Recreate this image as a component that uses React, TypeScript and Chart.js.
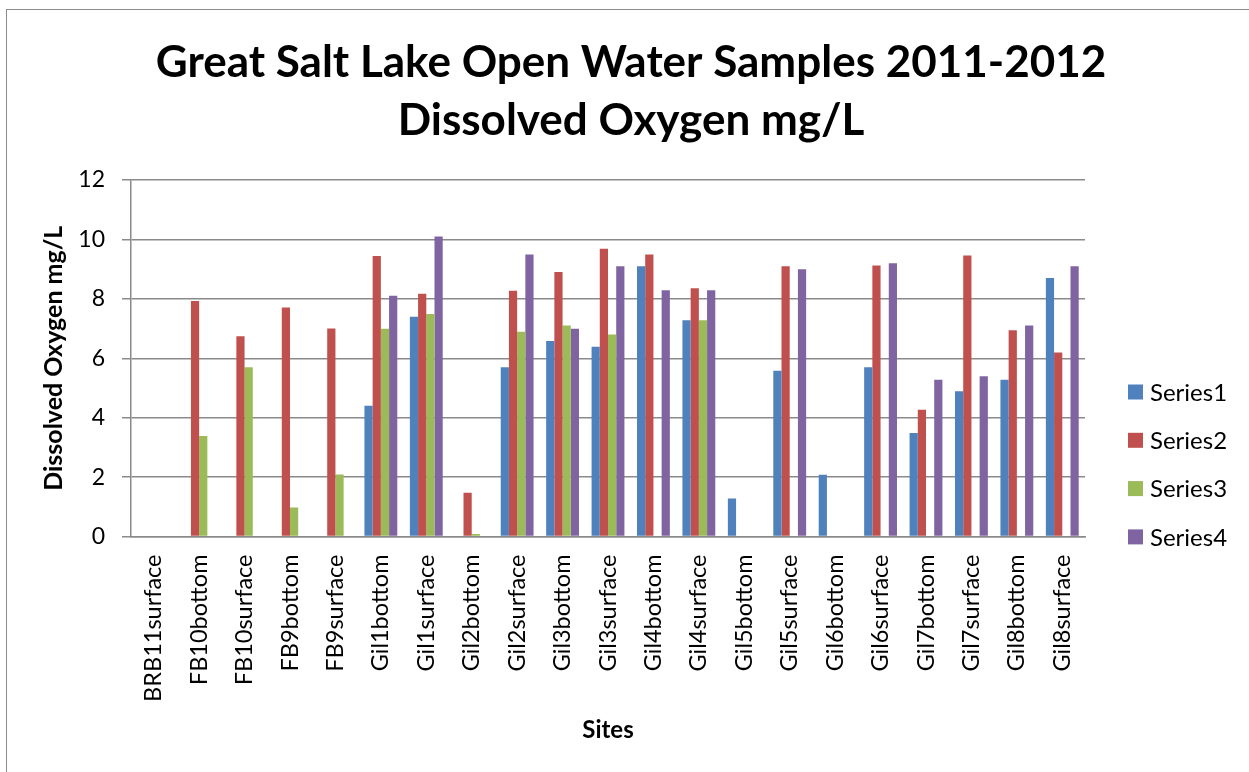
import React, { useEffect, useRef } from 'react';
import { Chart, registerables } from 'chart.js';

Chart.register(...registerables);

const categories = [
  'BRB11surface', 'FB10bottom', 'FB10surface', 'FB9bottom', 'FB9surface',
  'Gil1bottom', 'Gil1surface', 'Gil2bottom', 'Gil2surface', 'Gil3bottom',
  'Gil3surface', 'Gil4bottom', 'Gil4surface', 'Gil5bottom', 'Gil5surface',
  'Gil6bottom', 'Gil6surface', 'Gil7bottom', 'Gil7surface', 'Gil8bottom',
  'Gil8surface',
];

const series1 = [null, null, null, null, null, 4.4, 7.4, null, 5.7, 6.58, 6.39, 9.1, 7.28, 1.28, 5.58, 2.08, 5.7, 3.48, 4.89, 5.28, 8.7];
const series2 = [null, 7.93, 6.74, 7.71, 7.0, 9.44, 8.17, 1.47, 8.27, 8.9, 9.69, 9.49, 8.36, null, 9.1, null, 9.12, 4.27, 9.46, 6.94, 6.19];
const series3 = [null, 3.38, 5.7, 0.98, 2.09, 6.99, 7.49, 0.08, 6.89, 7.1, 6.8, null, 7.28, null, null, null, null, null, null, null, null];
const series4 = [null, null, null, null, null, 8.1, 10.1, null, 9.49, 6.99, 9.1, 8.29, 8.29, null, 9.0, null, 9.2, 5.28, 5.39, 7.1, 9.1];

const seriesNames = ['Series1', 'Series2', 'Series3', 'Series4'];
const seriesColors = ['#4F81BD', '#C0504D', '#9BBB59', '#8064A2'];

const yMin = 0;
const yMax = 12;
const yStep = 2;

const titleLines = ['Great Salt Lake Open Water Samples 2011-2012', 'Dissolved Oxygen mg/L'];
const yAxisTitle = 'Dissolved Oxygen mg/L';
const xAxisTitle = 'Sites';

const FONT = 'Lato, "Open Sans", sans-serif';
const GRID = '#8a8a8a';

const framePlugin = {
  id: 'frame',
  beforeDraw(chart: any) {
    const ctx = chart.ctx;
    ctx.save();
    ctx.fillStyle = '#ffffff';
    ctx.fillRect(0, 0, chart.width, chart.height);
    ctx.strokeStyle = '#8c8c8c';
    ctx.lineWidth = 1;
    ctx.strokeRect(6.5, 9.5, chart.width + 20, chart.height + 20);
    ctx.restore();
  },
};

const sideLegendPlugin = {
  id: 'sideLegend',
  afterDraw(chart: any) {
    const ctx = chart.ctx;
    const area = chart.chartArea;
    ctx.save();
    ctx.font = `24px ${FONT}`;
    ctx.textBaseline = 'middle';
    ctx.textAlign = 'left';
    const x0 = area.right + 43;
    const y0 = 392;
    const gap = 48.3;
    chart.data.datasets.forEach((ds: any, i: number) => {
      const y = y0 + i * gap;
      ctx.fillStyle = ds.backgroundColor;
      ctx.fillRect(x0, y - 7.5, 15, 15);
      ctx.fillStyle = '#000000';
      ctx.fillText(ds.label, x0 + 22, y + 1);
    });
    ctx.restore();
  },
};

export default function App() {
  const canvasRef = useRef<HTMLCanvasElement | null>(null);

  useEffect(() => {
    const canvas = canvasRef.current;
    if (!canvas) return;
    const seriesData = [series1, series2, series3, series4];
    const chart = new Chart(canvas, {
      type: 'bar',
      data: {
        labels: categories,
        datasets: seriesData.map((d, i) => ({
          label: seriesNames[i],
          data: d,
          backgroundColor: seriesColors[i],
          borderWidth: 0,
          categoryPercentage: 0.723,
          barPercentage: 1.0,
        })),
      },
      options: {
        responsive: false,
        animation: false,
        devicePixelRatio: 1,
        layout: { padding: { left: 13, right: 0, top: 0, bottom: 0 } },
        plugins: {
          legend: { display: false },
          tooltip: { enabled: false },
          title: {
            display: true,
            text: titleLines,
            color: '#000000',
            font: { family: FONT, size: 44, weight: 'bold', lineHeight: '58px' },
            padding: { top: 34, bottom: 30 },
          },
        },
        scales: {
          x: {
            grid: { display: false, drawTicks: false, tickLength: 0 },
            border: { display: true, color: GRID, width: 1.5 },
            ticks: {
              autoSkip: false,
              maxRotation: 90,
              minRotation: 90,
              padding: 18,
              color: '#000000',
              font: { family: FONT, size: 23.5 },
            },
            title: {
              display: true,
              text: xAxisTitle,
              color: '#000000',
              font: { family: FONT, size: 24, weight: 'bold', lineHeight: 1.2 },
              padding: { top: 0, bottom: 27.6 },
            },
            afterFit(scale: any) {
              scale.height = 772 - 536.5;
            },
          },
          y: {
            min: yMin,
            max: yMax,
            ticks: {
              stepSize: yStep,
              padding: 17,
              color: '#000000',
              font: { family: FONT, size: 23 },
            },
            grid: { color: GRID, lineWidth: 1.5, drawTicks: true, tickLength: 9, tickColor: GRID },
            border: { display: true, color: GRID, width: 1.5 },
            title: {
              display: true,
              text: yAxisTitle,
              color: '#000000',
              font: { family: FONT, size: 25, weight: 'bold', lineHeight: 1.2 },
              padding: { top: 26, bottom: 0 },
            },
            afterFit(scale: any) {
              scale.width = 131 - 13;
            },
          },
          yRight: {
            position: 'right',
            display: true,
            grid: { display: false, drawTicks: false },
            border: { display: false },
            ticks: { display: false },
            afterFit(scale: any) {
              scale.width = 1249 - 1085;
            },
          },
        },
      },
      plugins: [framePlugin, sideLegendPlugin],
    } as any);
    return () => chart.destroy();
  }, []);

  return (
    <div style={{ position: 'fixed', left: 0, top: 0, width: 1249, height: 772, overflow: 'hidden', background: '#ffffff' }}>
      <canvas ref={canvasRef} width={1249} height={772} style={{ display: 'block', width: 1249, height: 772 }} />
    </div>
  );
}
